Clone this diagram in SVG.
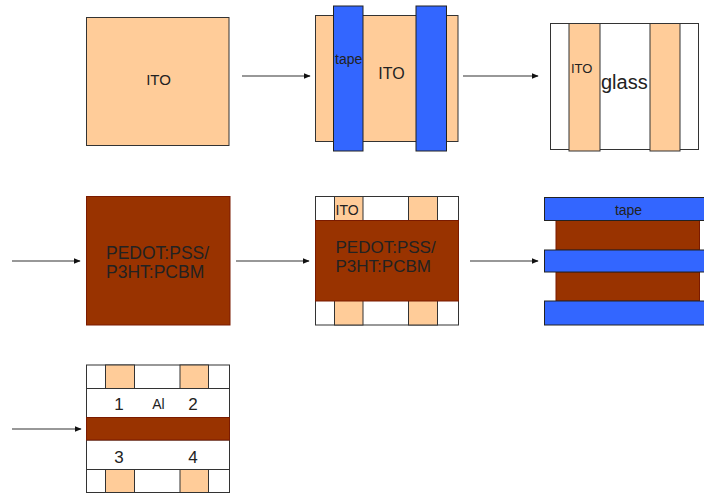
<svg xmlns="http://www.w3.org/2000/svg" width="704" height="495" viewBox="0 0 704 495">
<defs>
<style>
.ito{fill:#FFCC99;stroke:#333;stroke-width:1}
.tape{fill:#3366FF;stroke:#222;stroke-width:1}
.org{fill:#993300;stroke:#7a1a00;stroke-width:1}
.gl{fill:#fff;stroke:#333;stroke-width:1}
.t{font-family:"Liberation Sans",Arial,sans-serif;font-size:15px;fill:#222}
.s{font-size:14px}
.p{font-size:17.5px}
.c{text-anchor:middle}
.arr{stroke:#333;stroke-width:1.2;fill:none;marker-end:url(#ah)}
</style>
<marker id="ah" viewBox="0 0 10 10" refX="9" refY="5" markerWidth="7" markerHeight="7" orient="auto" markerUnits="userSpaceOnUse">
<path d="M0,1 L10,5 L0,9 Z" fill="#111"/>
</marker>
</defs>
<rect width="704" height="495" fill="#fff"/>
<g id="connectors">
<line class="arr" x1="242" y1="76" x2="310" y2="76"/>
<line class="arr" x1="463" y1="76" x2="538" y2="76"/>
<line class="arr" x1="12" y1="261" x2="80" y2="261"/>
<line class="arr" x1="236" y1="261" x2="309" y2="261"/>
<line class="arr" x1="470" y1="261" x2="538" y2="261"/>
<line class="arr" x1="12" y1="429" x2="81" y2="429"/>
</g>
<g id="n1">
<rect class="ito" x="86.5" y="17.5" width="142.5" height="128"/>
<text class="t c" x="158.5" y="84.5">ITO</text>
</g>
<g id="n2">
<rect class="ito" x="315.5" y="15.5" width="142.5" height="126"/>
<rect class="tape" x="333.5" y="6" width="29.5" height="145"/>
<rect class="tape" x="416" y="6" width="30.5" height="145"/>
<text class="t c" x="391.5" y="78.5" style="font-size:16px">ITO</text>
<text class="t s" x="335" y="64">tape</text>
</g>
<g id="n3">
<rect class="gl" x="550.5" y="23.5" width="148" height="126"/>
<rect class="ito" x="569" y="23.5" width="31" height="127.5"/>
<rect class="ito" x="650" y="23.5" width="30" height="127.5"/>
<text class="t" x="571" y="72.5" style="font-size:13px">ITO</text>
<text class="t" x="601" y="89" style="font-size:20px">glass</text>
</g>
<g id="n4">
<rect class="org" x="86.5" y="196.5" width="143.5" height="128.5"/>
<text class="t p" x="106" y="258.5">PEDOT:PSS/</text>
<text class="t p" x="106" y="277.5">P3HT:PCBM</text>
</g>
<g id="n5">
<rect class="gl" x="315.5" y="196.5" width="143" height="128.5"/>
<rect class="ito" x="334.5" y="196.5" width="28.5" height="128.5"/>
<rect class="ito" x="408.5" y="196.5" width="29" height="128.5"/>
<rect class="org" x="315.5" y="220.5" width="143" height="80.5"/>
<text class="t s" x="335.5" y="215">ITO</text>
<text class="t" x="335.5" y="252.5" style="font-size:17px">PEDOT:PSS/</text>
<text class="t" x="335.5" y="272" style="font-size:17px">P3HT:PCBM</text>
</g>
<g id="n6">
<rect class="org" x="556" y="220.5" width="143.5" height="29.5"/>
<rect class="org" x="556" y="272" width="143.5" height="29"/>
<rect class="tape" x="544.5" y="197.5" width="160" height="23"/>
<rect class="tape" x="544.5" y="250" width="160" height="22"/>
<rect class="tape" x="544.5" y="301" width="160" height="24"/>
<text class="t c s" x="628.5" y="215">tape</text>
</g>
<g id="n7">
<rect class="gl" x="86.5" y="365" width="143" height="127.5"/>
<rect class="ito" x="105.5" y="365" width="29" height="23.5"/>
<rect class="ito" x="180" y="365" width="28.5" height="23.5"/>
<rect class="ito" x="105.5" y="469.5" width="29" height="23"/>
<rect class="ito" x="180" y="469.5" width="28.5" height="23"/>
<rect class="gl" x="86.5" y="388.5" width="143" height="29"/>
<rect class="gl" x="86.5" y="440" width="143" height="29.5"/>
<rect class="org" x="86.5" y="417.5" width="143" height="22.5"/>
<text class="t c" x="119" y="409.5" style="font-size:17px">1</text>
<text class="t c s" x="158.5" y="408.5">Al</text>
<text class="t c" x="193" y="409.5" style="font-size:17px">2</text>
<text class="t c" x="119" y="463" style="font-size:17px">3</text>
<text class="t c" x="193" y="463" style="font-size:17px">4</text>
</g>
</svg>
